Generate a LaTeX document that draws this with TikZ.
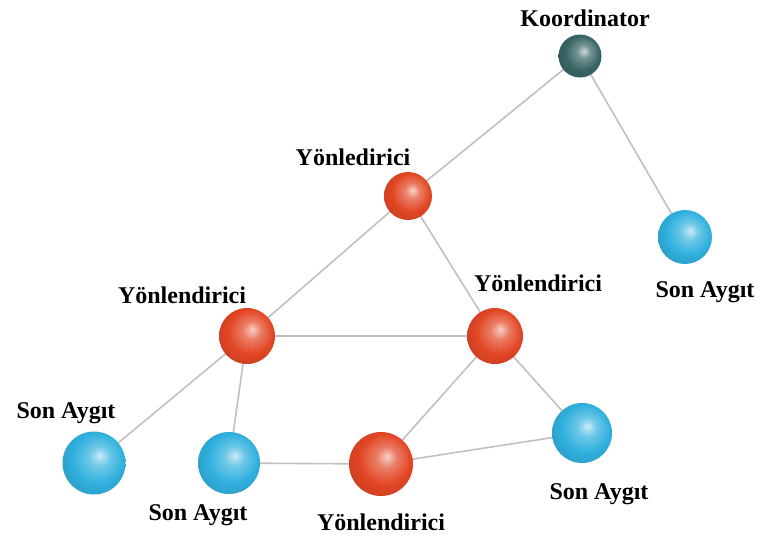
\documentclass[tikz,border=0pt]{standalone}
\usepackage{fontspec}
\setmainfont{Liberation Serif}
\usetikzlibrary{backgrounds}
\definecolor{routerred}{RGB}{226,70,36}
\definecolor{devblue}{RGB}{48,176,222}
\definecolor{coordteal}{RGB}{56,100,100}
\definecolor{linkgray}{RGB}{192,192,192}
\makeatletter
\pgfdeclareradialshading[tikz@ball]{softball}{\pgfqpoint{5bp}{6bp}}{%
  color(0bp)=(tikz@ball!25!white); color(8bp)=(tikz@ball!70!white);
  color(20bp)=(tikz@ball); color(34bp)=(tikz@ball!85!black);
  color(50bp)=(tikz@ball!50!black)}
\makeatother
\tikzset{
  sphere/.style={circle,inner sep=0pt,shading=softball,minimum size=#1},
  router/.style={ball color=routerred,sphere=#1},
  device/.style={ball color=devblue,sphere=#1},
  coord/.style={ball color=coordteal,sphere=#1},
  link/.style={linkgray,line width=1.6pt},
  lbl/.style={font=\fontsize{24}{26}\selectfont\bfseries,inner sep=0pt}
}

\begin{document}
\begin{tikzpicture}[x=1pt,y=-1pt]
  \useasboundingbox (0,0) rectangle (767,536);

  % Spheres
  \node[coord=43]  (kor) at (580,56)  {};
  \node[router=48] (rtop) at (408,196) {};
  \node[router=56] (rleft) at (247,336) {};
  \node[router=56] (rright) at (495,336) {};
  \node[router=64] (rbot) at (381,464) {};
  \node[device=54] (dtop) at (685,237) {};
  \node[device=63] (dleft) at (94,463) {};
  \node[device=62] (dmid) at (229,463) {};
  \node[device=60] (drb) at (582,433) {};

  % Labels
  \node[lbl] (korlbl) at (585,18) {Koordinator};
  \node[lbl] (rtoplbl) at (353,157) {Yönledirici};
  \node[lbl] (rleftlbl) at (182,295) {Yönlendirici};
  \node[lbl] (rrightlbl) at (538,283) {Yönlendirici};
  \node[lbl] (rbotlbl) at (381,522) {Yönlendirici};
  \node[lbl] (dtoplbl) at (705,292) {Son Aygıt};
  \node[lbl] (dleftlbl) at (66,413) {Son Aygıt};
  \node[lbl] (dmidlbl) at (198,515) {Son Aygıt};
  \node[lbl] (drblbl) at (599,494) {Son Aygıt};

  % Links
  \begin{scope}[on background layer]
    \draw[link] (kor.center) -- (rtop.center);
    \draw[link] (kor.center) -- (dtop.center);
    \draw[link] (rtop.center) -- (rleft.center);
    \draw[link] (rtop.center) -- (rright.center);
    \draw[link] (rleft.center) -- (rright.center);
    \draw[link] (rleft.center) -- (dleft.center);
    \draw[link] (rleft.center) -- (dmid.center);
    \draw[link] (dmid.center) -- (rbot.center);
    \draw[link] (rbot.center) -- (rright.center);
    \draw[link] (rright.center) -- (drb.center);
    \draw[link] (rbot.center) -- (drb.center);
  \end{scope}
\end{tikzpicture}
\end{document}
